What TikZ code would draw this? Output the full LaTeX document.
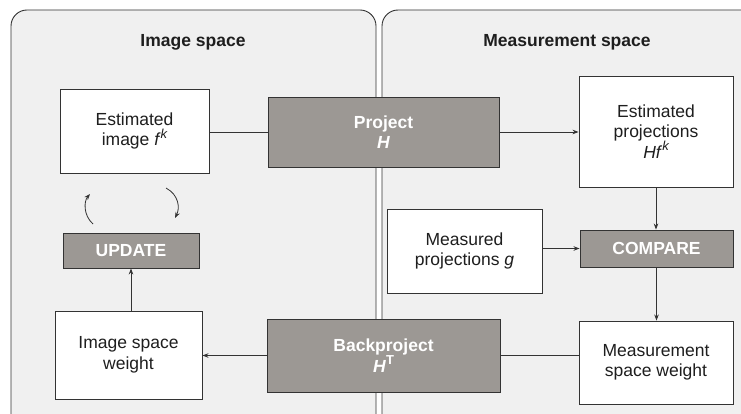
\documentclass[tikz,border=0pt]{standalone}
\usepackage{fontspec}
\setmainfont{Liberation Sans}
\usetikzlibrary{arrows.meta}
\definecolor{panelfill}{HTML}{F0F0F0}
\definecolor{opfill}{HTML}{9C9894}
\definecolor{edge}{HTML}{333333}
\definecolor{ink}{HTML}{1E1E1E}
% raised index, set in a smaller size
\newcommand{\raisedidx}[1]{\raisebox{0.42em}{\fontsize{13}{13}\selectfont #1}}
\begin{document}
\begin{tikzpicture}[x=1pt,y=-1pt,
  panel/.style={draw=edge,line width=0.9pt,fill=panelfill,rounded corners=16pt},
  whitebox/.style={draw=edge,line width=0.9pt,fill=white,text=ink,align=center,
    font=\fontsize{17.5}{20.5}\selectfont,inner sep=0pt},
  opbox/.style={draw=edge,line width=0.9pt,fill=opfill,text=white,align=center,
    font=\fontsize{17.5}{20.5}\selectfont\bfseries,inner sep=0pt},
  title/.style={text=ink,font=\fontsize{17.5}{21}\selectfont\bfseries},
  conn/.style={draw=edge,line width=0.8pt},
  arr/.style={conn,-{Stealth[length=6pt,width=4.5pt]}}]
\useasboundingbox (0,0) rectangle (741,414);
\begin{scope}
  \clip (0,0) rectangle (741,414);
  \draw[panel] (11,10) rectangle (376,432);
  \draw[panel] (382,10) rectangle (770,432);
\end{scope}

\node[title] (tIm) at (193,42) {Image space};
\node[title] (tMe) at (567,42) {Measurement space};

% boxes: centre + size
\node[whitebox,minimum width=149pt,minimum height=84pt] (est) at (134.5,131) {Estimated\\image \textit{f}\raisedidx{\itshape k}};
\node[opbox,minimum width=231pt,minimum height=70pt] (proj) at (383.5,132) {Project\\\textit{H}};
\node[whitebox,minimum width=154pt,minimum height=111pt] (estp) at (656,131.5) {Estimated\\projections\\\textit{Hf}\raisedidx{\itshape k}};
\node[whitebox,minimum width=155pt,minimum height=84pt] (meas) at (464.5,251) {Measured\\projections \textit{g}};
\node[opbox,minimum width=153pt,minimum height=37pt] (comp) at (656.5,248.5) {COMPARE};
\node[whitebox,minimum width=154pt,minimum height=83pt] (msw) at (656,362.5) {Measurement\\space weight};
\node[opbox,minimum width=233pt,minimum height=73pt] (back) at (383.5,355.5) {Backproject\\\textit{H}\raisedidx{\bfseries T}};
\node[whitebox,minimum width=147pt,minimum height=88pt] (isw) at (128.5,355) {Image space\\weight};
\node[opbox,minimum width=136pt,minimum height=35pt] (upd) at (131,250.5) {UPDATE};

% connectors
\draw[conn] (est.east |- proj.west) -- (proj.west);
\draw[arr] (proj.east) -- (estp.west |- proj.east);
\draw[arr] (estp.south) -- (comp.north -| estp.south);
\draw[arr] (meas.east |- comp.west) -- (comp.west);
\draw[arr] (comp.south) -- (msw.north -| comp.south);
\draw[conn] (msw.west |- back.east) -- (back.east);
\draw[arr] (back.west) -- (isw.east |- back.west);
\draw[arr] (isw.north -| upd.south) -- (upd.south);

% iteration loop arrows
\coordinate (loopLa) at (93,224);
\coordinate (loopLb) at (90,194);
\coordinate (loopRa) at (166,188);
\coordinate (loopRb) at (175,218);
\draw[arr] (loopLa) .. controls (83,215) and (84,201) .. (loopLb);
\draw[arr] (loopRa) .. controls (179,195) and (180,208) .. (loopRb);
\end{tikzpicture}
\end{document}
